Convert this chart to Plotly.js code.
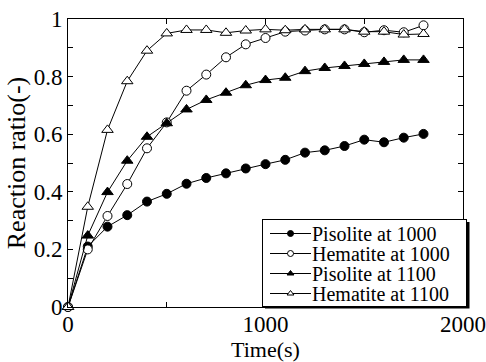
<!DOCTYPE html>
<html><head><meta charset="utf-8">
<script src="https://cdn.plot.ly/plotly-3.0.1.min.js"></script>
<style>html,body{margin:0;padding:0;background:#fff}#chart{width:486px;height:362px}</style>
</head><body><div id="chart"></div>
<script>
const time = [0,100,200,300,400,500,600,700,800,900,1000,1100,1200,1300,1400,1500,1600,1700,1800];
const pisolite1000 = [0,0.21,0.279,0.319,0.366,0.393,0.428,0.448,0.464,0.481,0.496,0.511,0.536,0.544,0.559,0.581,0.572,0.588,0.601];
const hematite1000 = [0,0.200,0.316,0.427,0.551,0.641,0.751,0.807,0.867,0.912,0.934,0.956,0.960,0.964,0.964,0.954,0.961,0.954,0.978];
const pisolite1100 = [0,0.248,0.399,0.508,0.591,0.638,0.686,0.719,0.744,0.770,0.788,0.796,0.819,0.830,0.837,0.844,0.851,0.858,0.858];
const hematite1100 = [0,0.348,0.615,0.784,0.890,0.950,0.962,0.962,0.952,0.960,0.964,0.961,0.964,0.964,0.964,0.956,0.956,0.946,0.948];
const seriesNames = ['Pisolite at 1000','Hematite at 1000','Pisolite at 1100','Hematite at 1100'];

const FAM = 'Liberation Serif';
function f(size){ return {family:FAM, size:size, color:'#000'}; }
const styles = [
  {symbol:'circle', open:false, size:9},
  {symbol:'circle', open:true, size:9},
  {symbol:'triangle-up', open:false, size:10},
  {symbol:'triangle-up', open:true, size:10}
];
const ys = [pisolite1000, hematite1000, pisolite1100, hematite1100];
const traces = [];
ys.forEach((y,i)=>{
  const st = styles[i];
  traces.push({x:time, y:y, type:'scatter', mode:'lines+markers', showlegend:false, cliponaxis:false,
    line:{color:'#000', width:1},
    marker:{symbol:st.symbol, size:st.size, color:st.open?'#fff':'#000', line:{color:'#000', width:1}}});
});
ys.forEach((y,i)=>{
  const st = styles[i];
  traces.push({x:[null], y:[null], name:seriesNames[i], type:'scatter', mode:'lines+markers',
    line:{color:'#000', width:1},
    marker:{symbol:st.symbol, size:6, color:st.open?'#fff':'#000', line:{color:'#000', width:1}}});
});

function px2x(p){ return (p-68)/395; }
function px2y(p){ return (307-p)/288; }

const layout = {
  width:486, height:362,
  margin:{l:68, r:23, t:19, b:55},
  paper_bgcolor:'#fff', plot_bgcolor:'#fff',
  font:f(22),
  showlegend:true,
  legend:{x:px2x(262), xanchor:'left', y:px2y(219), yanchor:'top', bgcolor:'#fff', bordercolor:'#000', borderwidth:1,
    font:f(20), tracegroupgap:0, itemwidth:41},
  xaxis:{range:[0,2000], dtick:1000, tick0:0, ticks:'inside', ticklen:5, tickwidth:1, tickcolor:'#000',
    showline:true, linecolor:'#000', linewidth:1, mirror:'ticks', showgrid:false, zeroline:false, automargin:false,
    minor:{dtick:500, ticks:'inside', ticklen:5, tickcolor:'#000', showgrid:false},
    tickfont:f(23), ticklabelstandoff:-4,
    title:{text:'Time(s)', font:f(22), standoff:2}},
  yaxis:{range:[0,1], dtick:0.2, tick0:0, ticks:'inside', ticklen:5, tickwidth:1, tickcolor:'#000',
    showline:true, linecolor:'#000', linewidth:1, mirror:'ticks', showgrid:false, zeroline:false, automargin:false,
    minor:{dtick:0.1, ticks:'inside', ticklen:5, tickcolor:'#000', showgrid:false},
    tickfont:f(23),
    title:{text:'Reaction ratio(-)', font:f(26), standoff:0}},
  shapes:[
    {type:'rect', xref:'paper', yref:'paper', x0:px2x(265), x1:px2x(469.5), y0:px2y(308.5), y1:px2y(222), fillcolor:'#000', line:{width:0}, layer:'above'}
  ]
};
const gd = document.getElementById('chart');
Plotly.newPlot(gd, traces, layout, {displayModeBar:false, staticPlot:true}).then(()=>{
  // compact legend rows to match the reference spacing
  const items = gd.querySelectorAll('.legend .traces');
  items.forEach((g,i)=>{
    g.setAttribute('transform', 'translate(1,' + (14.5 + i*20) + ')');
    const lp = g.querySelector('.legendlines path');
    if (lp) lp.setAttribute('d', 'M7,0h41');
    g.querySelectorAll('.legendpoints path').forEach(p=>p.setAttribute('transform','translate(27.5,0)'));
    const tx = g.querySelector('.legendtext');
    if (tx) tx.setAttribute('x', 49);
  });
  const bg = gd.querySelector('.legend rect.bg');
  if (bg) { bg.setAttribute('width', 204); bg.setAttribute('height', 87); }
  document.querySelectorAll('clipPath[id^="legend"] rect').forEach(r=>{ r.setAttribute('width', 204); r.setAttribute('height', 87); });
});
</script></body></html>
